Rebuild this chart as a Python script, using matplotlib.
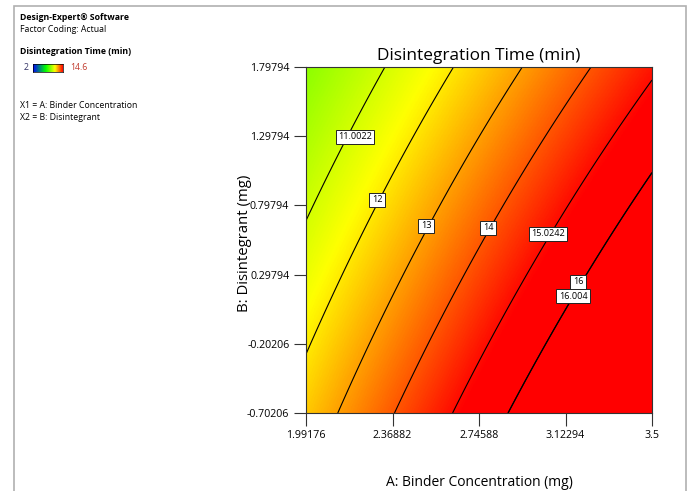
import numpy as np
import matplotlib
matplotlib.use("Agg")
import matplotlib.pyplot as plt
from matplotlib.colors import LinearSegmentedColormap
from matplotlib.patches import Rectangle

plt.rcParams['font.family'] = ['Open Sans', 'Noto Sans', 'DejaVu Sans']

# ---- data ----
x_ticks = [1.99176, 2.36882, 2.74588, 3.12294, 3.5]
y_ticks = [-0.70206, -0.20206, 0.29794, 0.79794, 1.29794, 1.79794]
x_range = [1.99176, 3.5]
y_range = [-0.70206, 1.79794]
# response model (actual factors): b0 + bA*A + bB*B + bAB*A*B
coef_b0 = 4.0543
coef_A = 3.8456
coef_B = -0.4702
coef_AB = -0.2832
legend_min, legend_max = 2.0, 14.6
# colour stops (value, colour) of the shading
shade_values = [2.0, 7.6, 11.7, 15.2]
shade_colors = [(0, 0, 1), (0, 1, 0), (1, 1, 0), (1, 0, 0)]
contour_levels = [11.0022, 12, 13, 14, 15.0242, 16, 16.004]
contour_label_text = ["11.0022", "12", "13", "14", "15.0242", "16", "16.004"]
contour_label_pos = [(2.2054, 1.2922), (2.3013, 0.8370), (2.5149, 0.6491),
                     (2.7851, 0.6347), (3.0467, 0.5913), (3.1774, 0.2445),
                     (3.1556, 0.1433)]

vmin, vmax = shade_values[0], shade_values[-1]
cmap = LinearSegmentedColormap.from_list(
    "de", [((v - vmin) / (vmax - vmin), c) for v, c in zip(shade_values, shade_colors)])

fig = plt.figure(figsize=(6.91, 4.91), dpi=100)
W, H = 691, 491

def fx(px):
    return px / W

def fy(py):
    return 1 - py / H

ax = fig.add_axes([fx(306), fy(413), (652 - 306) / W, (413 - 67) / H])

A = np.linspace(x_range[0], x_range[1], 300)
B = np.linspace(y_range[0], y_range[1], 300)
AA, BB = np.meshgrid(A, B)
Z = coef_b0 + coef_A * AA + coef_B * BB + coef_AB * AA * BB

ax.imshow(np.clip(Z, vmin, vmax), origin='lower', aspect='auto',
          extent=[x_range[0], x_range[1], y_range[0], y_range[1]],
          cmap=cmap, vmin=vmin, vmax=vmax, interpolation='bilinear')
ax.contour(AA, BB, Z, levels=contour_levels, colors='black', linewidths=0.8)

for txt, (lx, ly) in zip(contour_label_text, contour_label_pos):
    ax.text(lx, ly, txt, fontsize=6.6, ha='center', va='center', zorder=5,
            bbox=dict(boxstyle='square,pad=0.25', fc='white', ec='#222222', lw=0.7))

ax.set_xlim(x_range)
ax.set_ylim(y_range)
ax.set_xticks(x_ticks)
ax.set_xticklabels([f"{v:g}" for v in x_ticks])
ax.set_yticks(y_ticks)
ax.set_yticklabels([f"{v:.5f}" for v in y_ticks])
ax.tick_params(direction='out', length=9, width=0.8, labelsize=7.7, pad=3, color='#333333')
for s in ax.spines.values():
    s.set_linewidth(0.8)
    s.set_color('#333333')

ax.set_title("Disintegration Time (min)", fontsize=12.4, pad=5)
ax.set_xlabel("A: Binder Concentration (mg)", fontsize=10)
ax.xaxis.set_label_coords(0.5, (413 - 475) / 346)
ax.set_ylabel("B: Disintegrant (mg)", fontsize=10.7)
ax.yaxis.set_label_coords((252 - 306) / 346, 0.49)

# ---- left info panel ----
fs = 6.3
fig.text(fx(20), fy(17), "Design-Expert® Software", fontsize=fs, weight='bold', va='center')
fig.text(fx(20), fy(30), "Factor Coding: Actual", fontsize=fs, va='center')
fig.text(fx(20), fy(52), "Disintegration Time (min)", fontsize=fs, weight='bold', va='center')
fig.text(fx(24), fy(68), f"{legend_min:g}", fontsize=fs, va='center', color='#333366')
fig.text(fx(70), fy(68), f"{legend_max:g}", fontsize=fs, va='center', color='#c0392b')
cax = fig.add_axes([fx(33), fy(72), (63 - 33) / W, 8 / H])
cax.imshow(np.linspace(legend_min, legend_max, 256)[None, :], aspect='auto', cmap=cmap,
           vmin=legend_min, vmax=legend_max)
cax.set_xticks([])
cax.set_yticks([])
for s in cax.spines.values():
    s.set_linewidth(0.5)
fig.text(fx(20), fy(106), "X1 = A: Binder Concentration", fontsize=fs, va='center')
fig.text(fx(20), fy(117), "X2 = B: Disintegrant", fontsize=fs, va='center')

# frame border
fig.add_artist(Rectangle((fx(14), -0.2), (686 - 14) / W, fy(6) + 0.2,
                         transform=fig.transFigure, fill=False, ec='#b0b0b0', lw=1.2,
                         clip_on=False))

fig.savefig("out.png", dpi=100)
